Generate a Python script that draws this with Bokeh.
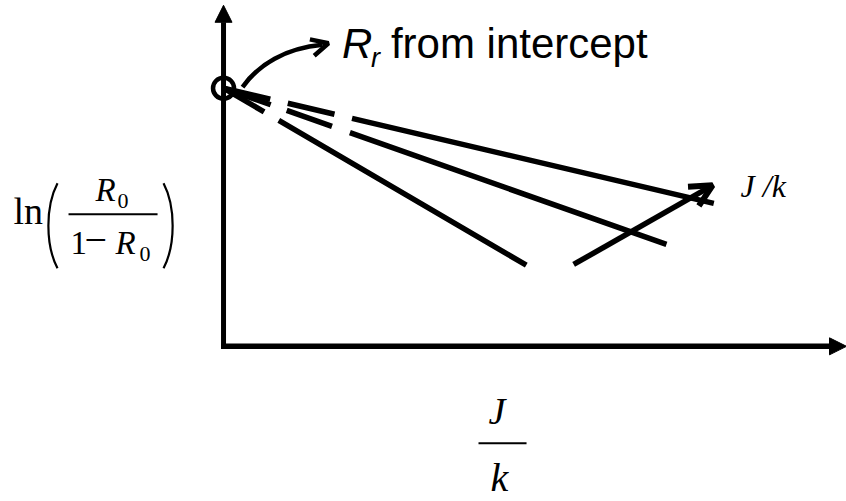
from bokeh.plotting import figure
from bokeh.models import Range1d, Arrow, NormalHead, OpenHead
from bokeh.core.properties import value
from bokeh.embed import file_html
from bokeh.resources import INLINE

# Schematic: ln(R0/(1-R0)) against J/k, several fits sharing one intercept
intercept = 7.57
fit_x_end = [7.87, 7.11, 4.86]
fit_y_end = [4.19, 2.99, 2.38]

# Direction of increasing J/k across the family of fits
trend_x = [5.62, 7.85]
trend_y = [2.40, 4.72]

# Curved pointer from the intercept to its note (start, ctrl 1, ctrl 2, end) and tip
pointer_x = [0.305, 0.562, 0.995, 1.589]
pointer_y = [7.60, 8.27, 8.74, 8.84]
pointer_tip = [1.685, 8.886]

# Axis extents
x_axis_end = 10.0
y_axis_end = 10.0

# Extrapolated part of each fit is dashed near the vertical axis
fit_dashes = ["48 18 48 18 2000", "50 17 48 19 2000", "47 17 2000"]

SERIF = value("Liberation Serif")
SANS = value("Liberation Sans")
INK = "black"

p = figure(width=846, height=501, output_backend="svg", toolbar_location=None,
           x_range=Range1d(-3.58, 10.0), y_range=Range1d(-4.55, 10.14),
           x_axis_type=None, y_axis_type=None,
           min_border=0, min_border_left=0, min_border_right=0,
           min_border_top=0, min_border_bottom=0)
p.outline_line_color = None
p.background_fill_color = "white"
p.border_fill_color = "white"


def label(x, y, txt, size, font=SERIF, style="normal", dx=0, dy=0):
    """Place text with its alphabetic baseline at (x, y)."""
    p.text([x], [y], text=[txt], text_font=font, text_font_style=style,
           text_font_size=f"{size}px", text_baseline="alphabetic", text_color=INK,
           x_offset=dx, y_offset=dy - round(0.37 * size))


# Axes with arrow heads
p.add_layout(Arrow(end=NormalHead(size=17, fill_color=INK, line_color=INK, line_width=1),
                   x_start=0, y_start=-0.075, x_end=0, y_end=y_axis_end,
                   line_width=5, line_color=INK))
p.add_layout(Arrow(end=NormalHead(size=17, fill_color=INK, line_color=INK, line_width=1),
                   x_start=-0.04, y_start=0, x_end=x_axis_end, y_end=0,
                   line_width=5.5, line_color=INK))

# Fitted lines, dashed where extrapolated toward the intercept
for xe, ye, dash in zip(fit_x_end, fit_y_end, fit_dashes):
    p.line([0, xe], [intercept, ye], line_width=5.5, line_color=INK, line_dash=dash)

# Intercept marker
p.scatter([0], [intercept], marker="circle", size=21, fill_color=None,
          line_color=INK, line_width=4.5)

# Curved pointer to the note
p.bezier(x0=[pointer_x[0]], y0=[pointer_y[0]], cx0=[pointer_x[1]], cy0=[pointer_y[1]],
         cx1=[pointer_x[2]], cy1=[pointer_y[2]], x1=[pointer_x[3]], y1=[pointer_y[3]],
         line_width=4.5, line_color=INK)
p.add_layout(Arrow(end=OpenHead(size=17, line_width=4.5, line_color=INK),
                   x_start=pointer_x[3], y_start=pointer_y[3],
                   x_end=pointer_tip[0], y_end=pointer_tip[1],
                   line_width=4.5, line_color=INK))

# Note: R_r from intercept
label(1.90, 8.40, "R", 42, font=SANS, style="italic")
label(1.90, 8.40, "r", 27, font=SANS, style="italic", dx=29, dy=8)
label(1.90, 8.40, "from intercept", 42, font=SANS, dx=49)

# Trend arrow and its label
p.add_layout(Arrow(end=OpenHead(size=22, line_width=6, line_color=INK),
                   x_start=trend_x[0], y_start=trend_y[0],
                   x_end=trend_x[1], y_end=trend_y[1],
                   line_width=5.5, line_color=INK))
label(8.30, 4.34, "J /k", 32, style="italic")

# Vertical axis title: ln( R0 / (1 - R0) )
label(-3.371, 3.548, "ln", 38)
p.bezier(x0=[-2.665], y0=[4.78], cx0=[-2.86], cy0=[4.10], cx1=[-2.86], cy1=[2.97],
         x1=[-2.665], y1=[2.287], line_width=2.2, line_color=INK)
p.bezier(x0=[-0.963], y0=[4.78], cx0=[-0.768], cy0=[4.10], cx1=[-0.768], cy1=[2.97],
         x1=[-0.963], y1=[2.287], line_width=2.2, line_color=INK)
label(-2.055, 4.223, "R", 33, style="italic")
label(-2.055, 4.223, "0", 22, dx=22, dy=7)
p.segment(x0=[-2.488], y0=[3.871], x1=[-1.059], y1=[3.871], line_width=2, line_color=INK)
label(-2.456, 2.669, "1", 33)
label(-2.23, 2.669, "\u2212", 40)
label(-1.734, 2.669, "R", 33, style="italic")
label(-1.734, 2.669, "0", 22, dx=24, dy=7)

# Horizontal axis title: J / k
label(4.254, -2.317, "J", 38, style="italic")
p.segment(x0=[4.093], y0=[-2.845], x1=[4.864], y1=[-2.845], line_width=2, line_color=INK)
label(4.286, -4.282, "k", 40, style="italic")

open("out.html", "w").write(file_html(p, INLINE))
